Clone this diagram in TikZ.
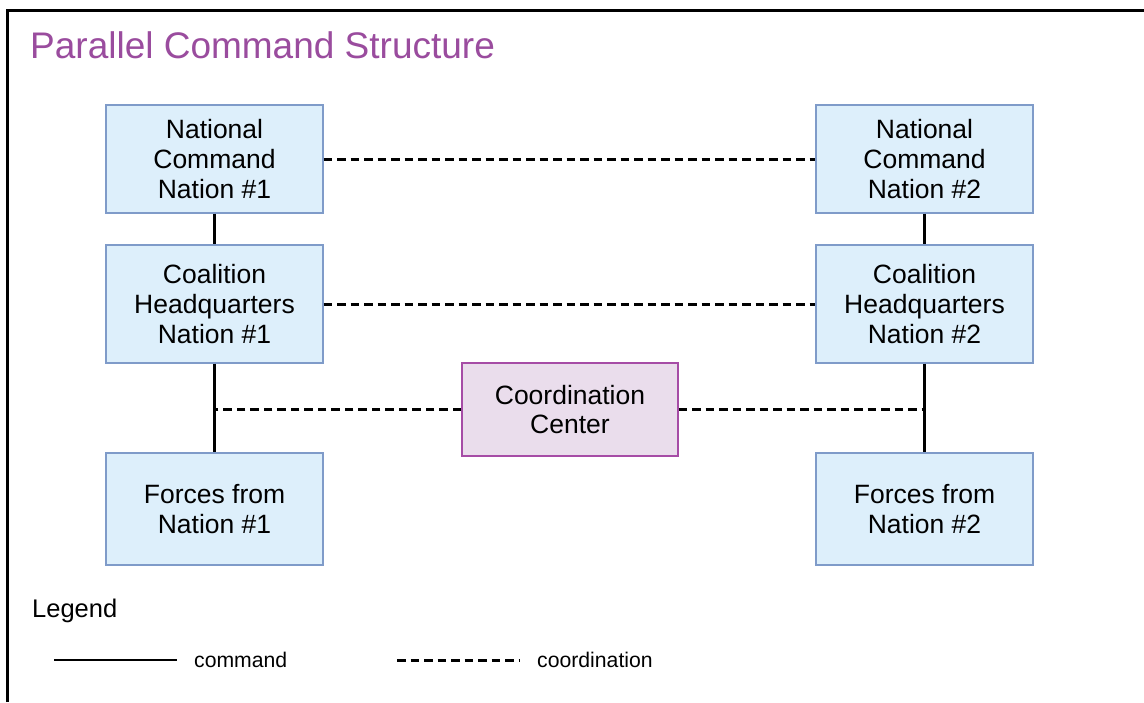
\documentclass[tikz,border=0pt]{standalone}
\usepackage{fontspec}
\setmainfont{Liberation Sans}
\definecolor{boxfill}{HTML}{DDEFFB}
\definecolor{boxline}{HTML}{7F9BC9}
\definecolor{ccfill}{HTML}{EADDEC}
\definecolor{ccline}{HTML}{A64CA6}
\definecolor{titlecol}{HTML}{9A4C9E}
\tikzset{
  natbox/.style={draw=boxline, line width=1.2pt, fill=boxfill, minimum width=217pt, inner sep=0pt, align=center, font=\fontsize{26.5}{29.7}\selectfont},
  ccbox/.style={draw=ccline, line width=1.2pt, fill=ccfill, minimum width=216pt, minimum height=93pt, inner sep=0pt, align=center, font=\fontsize{26.5}{29.7}\selectfont},
  cmdline/.style={line width=2.6pt, black},
  coordline/.style={line width=3pt, black, dash pattern=on 8.5pt off 5pt},
  legtext/.style={anchor=base west, inner sep=0pt, font=\fontsize{21.2}{24}\selectfont}
}
\begin{document}
\begin{tikzpicture}[x=1pt,y=-1pt]
\useasboundingbox (0,0) rectangle (1144,702);
\fill[white] (0,0) rectangle (1144,702);
% frame
\draw[line width=3pt] (7.5,702) -- (7.5,10) -- (1144,10);
% title
\node[anchor=base west, inner sep=0pt, text=titlecol, font=\fontsize{37}{40}\selectfont] (title) at (30,58.5) {Parallel Command Structure};
% boxes
\node[natbox, minimum height=108pt] (nc1) at (214.5,159) {National\\Command\\Nation \#1};
\node[natbox, minimum height=108pt] (nc2) at (924.5,159) {National\\Command\\Nation \#2};
\node[natbox, minimum height=118pt] (ch1) at (214.5,304) {Coalition\\Headquarters\\Nation \#1};
\node[natbox, minimum height=118pt] (ch2) at (924.5,304) {Coalition\\Headquarters\\Nation \#2};
\node[natbox, minimum height=112pt] (f1) at (214.5,509) {Forces from\\Nation \#1};
\node[natbox, minimum height=112pt] (f2) at (924.5,509) {Forces from\\Nation \#2};
\node[ccbox] (cc) at (570,409.5) {Coordination\\Center};
% command lines
\draw[cmdline] (nc1.south) -- (ch1.north);
\draw[cmdline] (ch1.south) -- (f1.north);
\draw[cmdline] (nc2.south) -- (ch2.north);
\draw[cmdline] (ch2.south) -- (f2.north);
% coordination lines
\draw[coordline] (nc1.east) -- (nc2.west);
\draw[coordline] (ch1.east) -- (ch2.west);
\coordinate (jl) at (cc.west -| ch1.south);
\coordinate (jr) at (cc.east -| ch2.south);
\draw[coordline] (cc.west) -- (jl);
\draw[coordline] (cc.east) -- (jr);
% legend
\node[anchor=base west, inner sep=0pt, font=\fontsize{25.5}{28}\selectfont] (leg) at (32,617) {Legend};
\coordinate (la) at (54,660);
\coordinate (lb) at (177,660);
\coordinate (lc) at (397,660);
\coordinate (ld) at (520,660);
\draw[cmdline] (la) -- (lb);
\node[legtext] (lcmd) at (194,667) {command};
\draw[coordline] (lc) -- (ld);
\node[legtext] (lcoord) at (537,667) {coordination};
\end{tikzpicture}
\end{document}
